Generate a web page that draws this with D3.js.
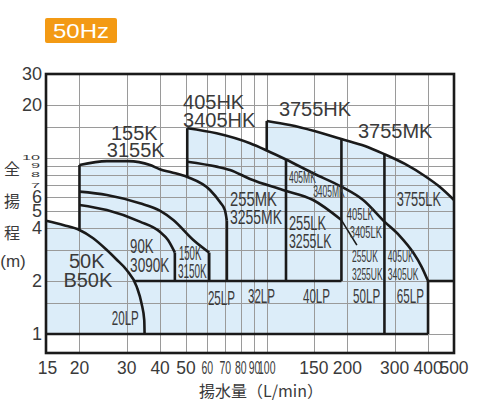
<!DOCTYPE html>
<html><head><meta charset="utf-8">
<script src="https://cdn.jsdelivr.net/npm/d3@7/dist/d3.min.js"></script>
<style>body{margin:0;background:#fff}svg{display:block}</style>
</head><body>
<svg id="c" width="500" height="413"></svg>
<script>
// ---------- data ----------
const xTicks = [15,20,30,40,50,60,70,80,90,100,150,200,300,400,500];
const xNarrowTicks = [60,70,80,90,100];
const yTicks = [1,2,4,5,6,7,8,9,10,20,30];
const ySquashTicks = [7,8,9,10];
const yGrid = [1,1.5,2,3,4,5,6,7,8,9,10,15,20];
const xGrid = [20,30,40,50,60,70,80,90,100,150,200,300,400];

// pump curves: [flow L/min, total head m]
const curve50K  = [[15,4.4],[17.5,4.15],[20,3.9],[22.5,3.5],[25.3,3.0],[27.5,2.65],[30,2.31],[32.7,1.86],[34.1,1.49],[34.9,1.2],[35,1.0]];
const curve155K = [[20,9.12],[25.3,9.6],[30.4,9.6],[36.7,9.12],[39.9,8.63],[44,8.3],[50.5,7.8],[61.4,6.58],[67,5.6],[69.8,5.06],[71,4.4]];
const curve150K = [[20,6.44],[25.3,6.16],[33.6,5.53],[39.9,5.02],[44.8,4.44],[53.2,3.42],[61,2.9]];
const curve90K  = [[20,5.41],[25.3,5.06],[33.6,4.35],[39.9,3.81],[42.8,3.42],[45.4,2.9]];
const curve405  = [[50.5,14.75],[65,13.81],[86.6,12.12],[100,11.03],[118,9.8],[149,8.19],[190,6.87],[229,5.77],[275,4.35],[314,3.6],[351,2.92],[379,2.4],[400,2.0]];
const curve255  = [[50.5,9.53],[65,8.93],[72.9,8.55],[86.6,7.6],[114.9,6.58],[149,5.77],[190,4.44]];
const leader255 = [[190,4.44],[217,3.2]];
const curve3755 = [[100,16.23],[122,15.4],[150.6,14.23],[190,12.82],[232.5,11.7],[275,10.5],[328,9.25],[389,7.9],[443,6.84],[500,5.77]];

// vertical borders: flow, from (head or curve), to (head or curve)
const verticals = [
  [20, "50K", "155K"], [45.4, 2, "90K"], [61, 2, "150K"], [71, 2, "155K"],
  [50.5, "155K", "405"], [100, "405", "3755"], [118, 2, "405"],
  [190, 2, "3755"], [275, 1, "3755"], [400, 1, "405"]
];
// horizontal borders: head, flow from, flow to
const horizontals = [[2, 32, 190], [1, 15, 400], [2, 400, 500]];

// labels: text, flow, head, (horizontal scale)
const bigLabels = [
  ["405HK",48.7,19.0],["3405HK",48.7,15.0],["155K",26.2,12.7],["3155K",25.3,10.13],
  ["3755HK",111,17.3],["3755MK",219,13.0]
];
const midLabels = [["50K",21.3,2.37],["B50K",21.5,1.85]];
const narrowLabels = [
  ["255MK",72.9,5.34,0.74],["3255MK",72.9,4.22,0.7],
  ["255LK",121,3.9,0.64],["3255LK",121,3.08,0.62],
  ["90K",30.9,2.89,0.66],["3090K",30.9,2.25,0.68],
  ["150K",47.0,2.63,0.48],["3150K",46.6,2.08,0.5],
  ["3755LK",306,5.34,0.64],
  ["20LP",26.4,1.125,0.58],["25LP",60.3,1.46,0.58],["32LP",85.1,1.5,0.58],
  ["40LP",136.5,1.5,0.58],["50LP",210,1.5,0.58],["65LP",306,1.5,0.58]
];
const smallLabels = [
  ["405MK",121,7.21,0.5],["3405MK",149,6.0,0.5],
  ["405LK",199,4.44,0.55],["3405LK",204,3.51,0.55],
  ["255UK",208,2.56,0.5],["3255UK",208,2.03,0.5],
  ["405UK",283,2.56,0.5],["3405UK",283,2.03,0.5]
];

// ---------- drawing ----------
const curves = {"50K":curve50K,"155K":curve155K,"150K":curve150K,"90K":curve90K,"405":curve405,"255":curve255,"3755":curve3755};
const svg = d3.select("#c");
const x = d3.scaleLog().domain([15,500]).range([46,454]);
const y = d3.scaleLog().domain([0.78,30]).range([353,74]);
const FONT = "'Liberation Sans', Arial, Helvetica, sans-serif";
const JFONT = "'Noto Sans CJK JP', 'Noto Sans', sans-serif";
const TXT = "#3a3a3a";
const FILL = "#dcedf9";
const INK = "#1a1a1a";

const line = d3.line().x(d=>x(d[0])).y(d=>y(d[1])).curve(d3.curveMonotoneX);
function headAt(c, f){
  for(let i=0;i<c.length-1;i++){
    const a=c[i], b=c[i+1];
    if(f>=a[0] && f<=b[0]){
      const t=(Math.log(f)-Math.log(a[0]))/(Math.log(b[0])-Math.log(a[0]));
      return Math.exp(Math.log(a[1])+t*(Math.log(b[1])-Math.log(a[1])));
    }
  }
  return c[c.length-1][1];
}
const val = (v,f)=> typeof v==="number" ? v : headAt(curves[v], f);

// badge
const badge = svg.append("g");
badge.append("rect").attr("x",45).attr("y",18).attr("width",72).attr("height",25).attr("rx",2).attr("fill","#f39a14");
badge.append("text").attr("transform","translate(81,31) scale(1.2,1)").attr("text-anchor","middle").attr("dominant-baseline","central")
  .attr("font-family",FONT).attr("font-size",20).attr("fill","#fff").text("50Hz");

// fills
const fills = svg.append("g").attr("fill",FILL);
function closed(c, extra){ return line(c) + extra.map(p=>"L"+x(p[0])+","+y(p[1])).join("") + "Z"; }
fills.append("path").attr("d", closed([[15,2],[400,2]], [[400,1],[15,1]]));
fills.append("path").attr("d", closed(curve50K, [[15,1]]));
fills.append("path").attr("d", closed(curve155K, [[71,1],[20,1]]));
fills.append("path").attr("d", closed(curve405, [[400,1],[50.5,1]]));
fills.append("path").attr("d", closed(curve3755, [[500,2],[100,2]]));

// grid
const grid = svg.append("g").attr("stroke","#9a9a9a").attr("stroke-width",1);
grid.selectAll("line.h").data(yGrid).join("line").attr("class","h")
  .attr("x1",x(15)).attr("x2",x(500)).attr("y1",d=>Math.round(y(d))+0.5).attr("y2",d=>Math.round(y(d))+0.5);
grid.selectAll("line.v").data(xGrid).join("line").attr("class","v")
  .attr("y1",y(0.78)).attr("y2",y(30)).attr("x1",d=>Math.round(x(d))+0.5).attr("x2",d=>Math.round(x(d))+0.5);

// thick borders
const ink = svg.append("g").attr("fill","none").attr("stroke",INK).attr("stroke-width",2.6).attr("stroke-linejoin","round");
Object.values(curves).forEach(c=> ink.append("path").attr("d", line(c)));
ink.selectAll("line.vb").data(verticals).join("line").attr("class","vb")
  .attr("x1",d=>x(d[0])).attr("x2",d=>x(d[0]))
  .attr("y1",d=>y(val(d[1],d[0]))).attr("y2",d=>y(val(d[2],d[0])));
ink.selectAll("line.hb").data(horizontals).join("line").attr("class","hb")
  .attr("y1",d=>y(d[0])).attr("y2",d=>y(d[0])).attr("x1",d=>x(d[1])).attr("x2",d=>x(d[2]));
svg.append("path").attr("d", d3.line().x(d=>x(d[0])).y(d=>y(d[1]))(leader255))
  .attr("fill","none").attr("stroke",INK).attr("stroke-width",1.6);

// frame
svg.append("rect").attr("x",x(15)).attr("y",y(30)).attr("width",x(500)-x(15)).attr("height",y(0.78)-y(30))
  .attr("fill","none").attr("stroke",INK).attr("stroke-width",2.6);

// labels
const lab = svg.append("g").attr("font-family",FONT).attr("fill",TXT);
bigLabels.forEach(d=> lab.append("text").attr("x",x(d[1])).attr("y",y(d[2])).attr("font-size",20).text(d[0]));
midLabels.forEach(d=> lab.append("text").attr("x",x(d[1])).attr("y",y(d[2])).attr("font-size",20).attr("text-anchor","middle").text(d[0]));
narrowLabels.forEach(d=> lab.append("text").attr("transform",`translate(${x(d[1])},${y(d[2])}) scale(${d[3]},1)`).attr("font-size",20).text(d[0]));
smallLabels.forEach(d=> lab.append("text").attr("transform",`translate(${x(d[1])},${y(d[2])}) scale(${d[3]},1)`).attr("font-size",17).text(d[0]));

// axis tick labels
const ax = svg.append("g").attr("font-family",FONT).attr("fill",TXT);
yTicks.forEach(v=>{
  const sq = ySquashTicks.includes(v);
  ax.append("text").attr("transform",`translate(${sq?40:42},${y(v)}) scale(${sq?0.9:1},${sq?0.4:1})`)
    .attr("text-anchor","end").attr("dominant-baseline","central").attr("font-size",18).text(v);
});
xTicks.forEach(v=>{
  const nr = xNarrowTicks.includes(v);
  ax.append("text").attr("transform",`translate(${x(v)+(v===15?1.5:0)},367) scale(${nr?0.55:0.92},1)`)
    .attr("text-anchor","middle").attr("dominant-baseline","central").attr("font-size",19).text(v);
});

// axis titles
const yt = svg.append("g").attr("font-family",JFONT).attr("fill",TXT).attr("font-size",16).attr("text-anchor","middle");
["全","揚","程"].forEach((c,i)=> yt.append("text").attr("x",12).attr("y",168+i*32).attr("dominant-baseline","central").text(c));
yt.append("text").attr("x",13).attr("y",261).attr("dominant-baseline","central").attr("font-family",FONT).attr("font-size",17).text("(m)");
svg.append("text").attr("x",261).attr("y",390).attr("text-anchor","middle").attr("dominant-baseline","central")
  .attr("font-family",JFONT).attr("font-size",16).attr("fill",TXT).text("揚水量（L/min）");
</script>
</body></html>
